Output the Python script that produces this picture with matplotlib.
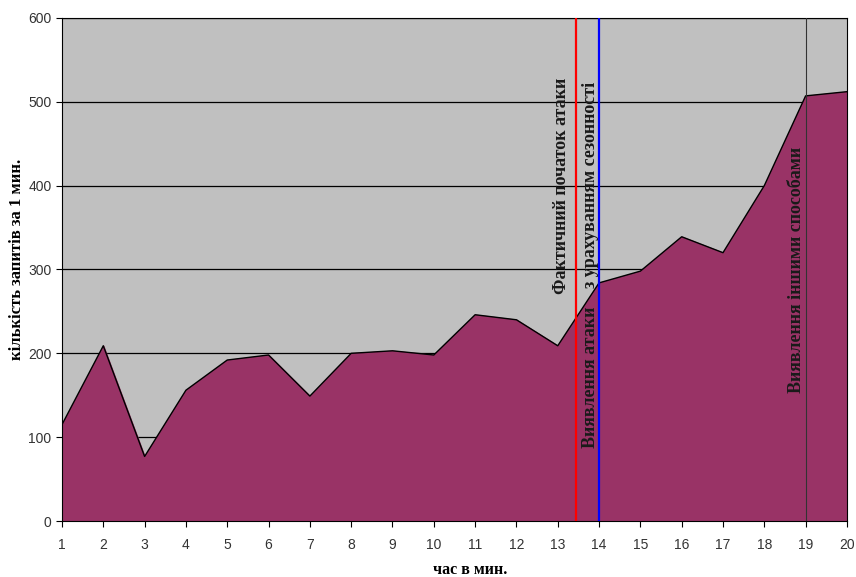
import matplotlib
matplotlib.use("Agg")
import matplotlib.pyplot as plt

# запити за хвилину
minutes = list(range(1, 21))
requests = [115, 209, 77, 156, 192, 198, 149, 200, 203, 198,
            246, 240, 209, 284, 298, 339, 320, 400, 507, 512]

attack_start = 13.45
detect_seasonal = 14
detect_other = 19

serif = "Liberation Serif"
sans = "Liberation Sans"

fig = plt.figure(figsize=(8.56, 5.77), dpi=100)
ax = fig.add_axes([0.0724, 0.097, 0.917, 0.872])
ax.set_facecolor("#c0c0c0")

ax.fill_between(minutes, requests, 0, color="#993366", zorder=2)
ax.plot(minutes, requests, color="black", lw=1.0, zorder=3)

ax.set_xlim(1, 20)
ax.set_ylim(0, 600)
ax.set_xticks(minutes)
ax.set_yticks(range(0, 601, 100))
ax.yaxis.grid(True, color="black", lw=0.9, zorder=1)
ax.set_axisbelow(True)
ax.tick_params(direction="out", length=4, labelsize=10, colors="black",
               labelcolor="#333333")
ax.tick_params(axis="x", pad=8)
for lab in ax.get_xticklabels() + ax.get_yticklabels():
    lab.set_fontfamily(sans)
for s in ax.spines.values():
    s.set_color("black")

ax.axvline(attack_start, color="red", lw=1.6, zorder=4)
ax.axvline(detect_seasonal, color="blue", lw=1.6, zorder=4)
ax.axvline(detect_other, color="#333333", lw=0.8, zorder=4)

txt = dict(rotation=90, fontfamily=serif, fontweight="bold", fontsize=13,
           color="#1a1a1a", zorder=5)
ax.text(13.1, 400, "Фактичний початок атаки", ha="center", va="center", **txt)
ax.text(13.8, 401, "з урахуванням сезонності", ha="center", va="center", **txt)
ax.text(13.8, 171, "Виявлення атаки", ha="center", va="center", **txt)
ax.text(18.77, 300, "Виявлення іншими способами", ha="center", va="center", **txt)

fig.text(0.549, 0.012, "час в мин.", ha="center", va="center",
         fontfamily=serif, fontweight="bold", fontsize=11.5)
fig.text(0.02, 0.55, "кількість запитів за 1 мин.", ha="center", va="center",
         rotation=90, fontfamily=serif, fontweight="bold", fontsize=12)

fig.savefig("out.png", dpi=100)
